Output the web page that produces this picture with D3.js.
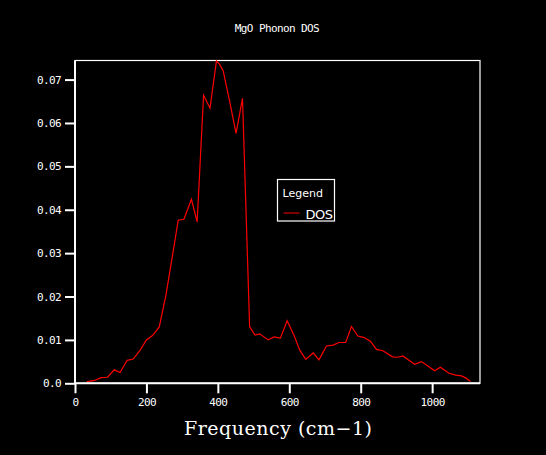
<!DOCTYPE html>
<html>
<head>
<meta charset="utf-8">
<script src="https://cdn.jsdelivr.net/npm/d3@7"></script>
<style>
  html, body { margin: 0; padding: 0; background: #000; }
  svg { display: block; }
</style>
</head>
<body>
<svg id="chart" width="546" height="455"></svg>
<script>
// === MgO phonon DOS ===

const freq = [33, 53, 73, 91, 110, 126, 146, 163, 182, 200, 217, 236, 255, 273, 289, 305,
  326, 342, 360, 378, 396, 405, 415, 433, 451, 469, 489, 504, 517, 541, 557, 575, 594,
  613, 629, 646, 667, 683, 704, 723, 739, 758, 774, 792, 808, 827, 844, 862, 889, 904,
  918, 935, 951, 970, 988, 1007, 1023, 1047, 1066, 1082, 1095, 1107];

const dos = [0.0004, 0.0006, 0.0013, 0.0014, 0.0031, 0.0025, 0.0053, 0.0056, 0.0076,
  0.0100, 0.0110, 0.0130, 0.0205, 0.0295, 0.0376, 0.0378, 0.0424, 0.0372, 0.0664,
  0.0634, 0.0743, 0.0735, 0.0720, 0.0650, 0.0576, 0.0657, 0.0130, 0.0111, 0.0114,
  0.0100, 0.0107, 0.0104, 0.0144, 0.0111, 0.0077, 0.0055, 0.0070, 0.0054, 0.0086,
  0.0088, 0.0094, 0.0094, 0.0131, 0.0109, 0.0106, 0.0097, 0.0078, 0.0075, 0.0061,
  0.0060, 0.0063, 0.0053, 0.0044, 0.0050, 0.0040, 0.0029, 0.0037, 0.0023, 0.0019,
  0.0017, 0.0012, 0.0004];

const xTicks = [0, 200, 400, 600, 800, 1000];
const yTicks = [0, 0.01, 0.02, 0.03, 0.04, 0.05, 0.06, 0.07];

const xDomain = [0, 1134];
const yDomain = [0, 0.0744];

const title = "MgO Phonon DOS";
const xLabel = "Frequency (cm\u22121)";
const seriesName = "DOS";

// plot box
const box = { left: 75, top: 60.5, right: 480, bottom: 383.3 };

const svg = d3.select("#chart");

const x = d3.scaleLinear().domain(xDomain).range([box.left, box.right]);
const y = d3.scaleLinear().domain(yDomain).range([box.bottom, box.top]);

// frame (top / right thin, axes thicker)
svg.append("rect")
  .attr("x", box.left)
  .attr("y", box.top)
  .attr("width", box.right - box.left)
  .attr("height", box.bottom - box.top)
  .attr("fill", "none")
  .attr("stroke", "#fff")
  .attr("stroke-width", 1.2);

// line
const line = d3.line()
  .x((d, i) => x(freq[i]))
  .y(d => y(d));

svg.append("path")
  .datum(dos)
  .attr("d", line)
  .attr("fill", "none")
  .attr("stroke", "#ff0000")
  .attr("stroke-width", 1.2);

// x axis
const xAxis = d3.axisBottom(x)
  .tickValues(xTicks)
  .tickSize(10)
  .tickPadding(5)
  .tickFormat(d3.format("d"));

const gx = svg.append("g")
  .attr("transform", `translate(0,${box.bottom})`)
  .call(xAxis);

// y axis
const yAxis = d3.axisLeft(y)
  .tickValues(yTicks)
  .tickSize(10)
  .tickPadding(4)
  .tickFormat(d => d === 0 ? "0.0" : d3.format(".2f")(d));

const gy = svg.append("g")
  .attr("transform", `translate(${box.left},0)`)
  .call(yAxis);

[gx, gy].forEach(g => {
  g.select(".domain").attr("stroke", "#fff").attr("stroke-width", 2);
  g.selectAll(".tick line").attr("stroke", "#fff").attr("stroke-width", 2);
  g.selectAll(".tick text")
    .attr("fill", "#fff")
    .attr("font-family", "DejaVu Sans Mono, monospace")
    .attr("font-size", 11)
    .attr("letter-spacing", "-0.6px");
});
gx.select(".domain").attr("d", `M${box.left},0H${box.right}`);
gy.select(".domain").attr("d", `M0,${box.bottom}V${box.top}`);

// title
svg.append("text")
  .attr("x", 277)
  .attr("y", 32)
  .attr("text-anchor", "middle")
  .attr("fill", "#fff")
  .attr("font-family", "DejaVu Sans Mono, monospace")
  .attr("font-size", 11)
  .attr("letter-spacing", "-0.6px")
  .text(title);

// x label
svg.append("text")
  .attr("x", 278)
  .attr("y", 434.5)
  .attr("text-anchor", "middle")
  .attr("fill", "#fff")
  .attr("font-family", "DejaVu Serif, serif")
  .attr("font-size", 19)
  .attr("textLength", 188)
  .attr("lengthAdjust", "spacing")
  .text(xLabel);

// legend
const lg = svg.append("g").attr("transform", "translate(277.5,179.5)");
lg.append("rect")
  .attr("width", 57)
  .attr("height", 41.5)
  .attr("fill", "none")
  .attr("stroke", "#fff")
  .attr("stroke-width", 1.2);
lg.append("text")
  .attr("x", 5)
  .attr("y", 17)
  .attr("fill", "#fff")
  .attr("font-family", "DejaVu Sans, sans-serif")
  .attr("font-size", 11)
  .text("Legend");
lg.append("line")
  .attr("x1", 6).attr("x2", 22)
  .attr("y1", 33.5).attr("y2", 33.5)
  .attr("stroke", "#ff0000")
  .attr("stroke-width", 1);
lg.append("text")
  .attr("x", 28)
  .attr("y", 39)
  .attr("fill", "#fff")
  .attr("font-family", "DejaVu Sans, sans-serif")
  .attr("font-size", 13)
  .attr("letter-spacing", "-0.5px")
  .text(seriesName);
</script>
</body>
</html>
